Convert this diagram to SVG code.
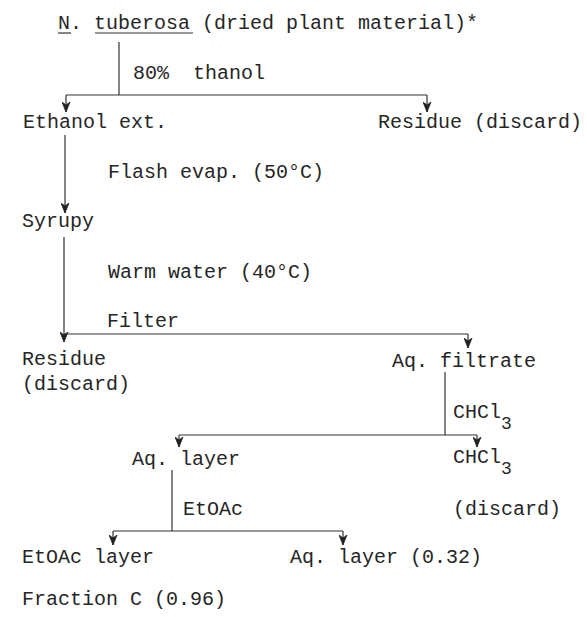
<svg xmlns="http://www.w3.org/2000/svg" width="587" height="617" viewBox="0 0 587 617">
<defs>
<marker id="ah" viewBox="0 0 11 9" refX="10.5" refY="4.5" markerWidth="11" markerHeight="9" markerUnits="userSpaceOnUse" orient="auto">
<path d="M0.5,0.5 L10.5,4.5 L0.5,8.5 L3.5,4.5 Z" fill="#222" stroke="#222" stroke-width="0.8" stroke-linejoin="miter"/>
</marker>
<style>
text{font-family:"Liberation Mono","DejaVu Sans Mono",monospace;font-size:20px;fill:#262626;white-space:pre}
.ln{stroke:#333;stroke-width:1.2;fill:none}
.arr{stroke:#333;stroke-width:1.2;fill:none;marker-end:url(#ah)}
.sub{font-size:18px}
</style>
</defs>
<rect width="587" height="617" fill="#ffffff"/>
<g id="connectors">
<line class="ln" x1="119" y1="42" x2="119" y2="95"/>
<line class="ln" x1="66" y1="95" x2="427" y2="95"/>
<line class="arr" x1="66" y1="95" x2="66" y2="112"/>
<line class="arr" x1="427" y1="95" x2="427" y2="112"/>
<line class="arr" x1="65" y1="135" x2="65" y2="213"/>
<line class="arr" x1="64" y1="237" x2="64" y2="342"/>
<line class="ln" x1="64" y1="334" x2="468" y2="334"/>
<line class="arr" x1="468" y1="334" x2="468" y2="348"/>
<line class="ln" x1="445" y1="372" x2="445" y2="435"/>
<line class="ln" x1="179" y1="435" x2="477" y2="435"/>
<line class="arr" x1="179" y1="435" x2="179" y2="447"/>
<line class="arr" x1="477" y1="435" x2="477" y2="447"/>
<line class="ln" x1="172" y1="470" x2="172" y2="531"/>
<line class="ln" x1="113" y1="531" x2="343" y2="531"/>
<line class="arr" x1="113" y1="531" x2="113" y2="545"/>
<line class="arr" x1="343" y1="531" x2="343" y2="545"/>
</g>
<g id="n-source">
<text x="58" y="29">N. tuberosa (dried plant material)*</text>
<line class="ln" x1="58" y1="33" x2="71" y2="33"/>
<line class="ln" x1="95" y1="33" x2="193" y2="33"/>
</g>
<g id="l-ethanol"><text x="133" y="79" xml:space="preserve">80%  thanol</text></g>
<g id="n-ethanol-ext"><text x="23" y="128">Ethanol ext.</text></g>
<g id="n-residue1"><text x="378" y="128">Residue (discard)</text></g>
<g id="l-flash"><text x="108" y="178">Flash evap. (50°C)</text></g>
<g id="n-syrupy"><text x="22" y="227">Syrupy</text></g>
<g id="l-warm"><text x="108" y="278">Warm water (40°C)</text></g>
<g id="l-filter"><text x="107" y="327">Filter</text></g>
<g id="n-residue2"><text x="22" y="365">Residue</text><text x="22" y="390">(discard)</text></g>
<g id="n-aq-filtrate"><text x="392" y="367">Aq. filtrate</text></g>
<g id="l-chcl3"><text x="453" y="418">CHCl<tspan class="sub" dy="11">3</tspan></text></g>
<g id="n-aq-layer"><text x="132" y="465">Aq. layer</text></g>
<g id="n-chcl3"><text x="453" y="463">CHCl<tspan class="sub" dy="11">3</tspan></text><text x="453" y="515">(discard)</text></g>
<g id="l-etoac"><text x="183" y="515">EtOAc</text></g>
<g id="n-etoac-layer"><text x="22" y="563">EtOAc layer</text></g>
<g id="n-aq-layer2"><text x="290" y="563">Aq. layer (0.32)</text></g>
<g id="n-fraction-c"><text x="22" y="605">Fraction C (0.96)</text></g>
</svg>
